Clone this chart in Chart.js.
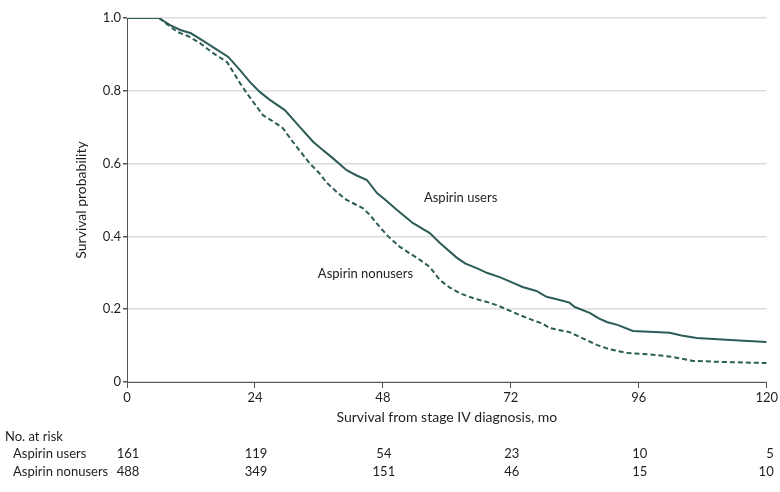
<!DOCTYPE html>
<html>
<head>
<meta charset="utf-8">
<script src="https://cdn.jsdelivr.net/npm/chart.js@4.4.1/dist/chart.umd.min.js"></script>
<style>
  html, body { margin: 0; padding: 0; background: #fff; }
  #wrap { width: 780px; height: 492px; }
</style>
</head>
<body>
<div id="wrap"><canvas id="kmChart" width="780" height="492"></canvas></div>
<script>
// survival curves (months, survival probability)
const usersMonths = [0, 6, 8, 10, 12, 14, 17, 19, 21.2, 23, 24.9, 26.8, 29.6, 32.4, 34.9, 36.5, 38.6, 41.2, 43, 45, 46.9, 48.5, 50.6, 53.6, 56.8, 58.7, 61.9, 63.5, 65.6, 67.5, 69.9, 72, 74.2, 76.8, 78.7, 81, 83, 84, 86.8, 88.5, 90, 92, 94.9, 98, 101.8, 104, 106.9, 110, 114, 120];
const usersSurv = [1, 1, 0.981, 0.967, 0.958, 0.94, 0.912, 0.893, 0.857, 0.825, 0.797, 0.775, 0.747, 0.701, 0.66, 0.64, 0.615, 0.582, 0.568, 0.555, 0.519, 0.50, 0.473, 0.437, 0.409, 0.382, 0.341, 0.325, 0.313, 0.30, 0.288, 0.275, 0.261, 0.25, 0.234, 0.226, 0.218, 0.206, 0.19, 0.175, 0.165, 0.157, 0.140, 0.138, 0.135, 0.128, 0.121, 0.118, 0.115, 0.110];

const nonusersMonths = [0, 6, 9.4, 11.5, 13.7, 16, 18.75, 20, 21.2, 22.5, 25.5, 27.5, 29.2, 31.1, 34.3, 36, 37.5, 39.5, 41.2, 44.2, 45.5, 47.4, 49, 51.2, 53, 55, 56.8, 58.7, 60.5, 62.4, 65, 67.5, 69.4, 72.4, 74, 76.1, 78, 79.3, 83, 85.5, 88.1, 90.5, 93.7, 98, 102.4, 106.1, 112, 120];
const nonusersSurv = [1, 1, 0.962, 0.95, 0.931, 0.905, 0.879, 0.85, 0.821, 0.793, 0.733, 0.715, 0.698, 0.66, 0.60, 0.575, 0.547, 0.52, 0.50, 0.478, 0.46, 0.426, 0.40, 0.371, 0.354, 0.335, 0.316, 0.28, 0.26, 0.244, 0.23, 0.22, 0.211, 0.192, 0.182, 0.17, 0.16, 0.148, 0.137, 0.12, 0.102, 0.09, 0.08, 0.076, 0.069, 0.058, 0.055, 0.052];

// number at risk table
const riskMonths = [0, 24, 48, 72, 96, 120];
const riskUsers = [161, 119, 54, 23, 10, 5];
const riskNonusers = [488, 349, 151, 46, 15, 10];

const lineColor = "#2b5c57";
const textColor = "#1e1e1e";
const fontFamily = "Lato, 'Open Sans', sans-serif";

function toPoints(xs, ys) {
  return xs.map((x, i) => ({ x: x, y: ys[i] }));
}

// curve labels + risk table drawn from the scales
const extrasPlugin = {
  id: "extras",
  afterDraw(chart) {
    const ctx = chart.ctx;
    const xs = chart.scales.x;
    const ys = chart.scales.y;
    ctx.save();
    ctx.fillStyle = textColor;
    ctx.font = "13px " + fontFamily;
    ctx.textBaseline = "middle";
    ctx.textAlign = "left";
    ctx.fillText("Aspirin users", xs.getPixelForValue(55.7), ys.getPixelForValue(0.505));
    ctx.fillText("Aspirin nonusers", xs.getPixelForValue(35.8), ys.getPixelForValue(0.297));

    // risk table
    const rowTitle = 437, rowUsers = 454, rowNon = 472;
    ctx.fillText("No. at risk", 5, rowTitle);
    ctx.fillText("Aspirin users", 13, rowUsers);
    ctx.fillText("Aspirin nonusers", 13, rowNon);
    riskMonths.forEach((m, i) => {
      const px = xs.getPixelForValue(m);
      if (i === riskMonths.length - 1) {
        ctx.textAlign = "right";
        ctx.fillText(String(riskUsers[i]), px + 7, rowUsers);
        ctx.fillText(String(riskNonusers[i]), px + 7, rowNon);
      } else {
        ctx.textAlign = "center";
        ctx.fillText(String(riskUsers[i]), px + 1, rowUsers);
        ctx.fillText(String(riskNonusers[i]), px + 1, rowNon);
      }
    });
    ctx.restore();
  },
};

const config = {
  type: "line",
  data: {
    datasets: [
      {
        label: "Aspirin users",
        data: toPoints(usersMonths, usersSurv),
        borderColor: lineColor,
        borderWidth: 2,
        pointRadius: 0,
        tension: 0,
        fill: false,
      },
      {
        label: "Aspirin nonusers",
        data: toPoints(nonusersMonths, nonusersSurv),
        borderColor: lineColor,
        borderWidth: 2,
        borderDash: [5, 3],
        pointRadius: 0,
        tension: 0,
        fill: false,
      },
    ],
  },
  options: {
    responsive: false,
    animation: false,
    devicePixelRatio: 1,
    layout: { padding: { left: 0, right: 13, top: 18, bottom: 66.6 } },
    plugins: {
      legend: { display: false },
      tooltip: { enabled: false },
    },
    scales: {
      x: {
        type: "linear",
        min: 0,
        max: 120,
        afterFit: (s) => { s.height = 43.4; },
        ticks: {
          stepSize: 24,
          color: textColor,
          padding: 2,
          font: { family: fontFamily, size: 13 },
        },
        grid: {
          drawOnChartArea: false,
          drawTicks: true,
          tickLength: 6,
          tickColor: "#555",
        },
        border: { color: "#555", width: 1 },
        title: {
          display: true,
          text: "Survival from stage IV diagnosis, mo",
          color: textColor,
          padding: { top: 0, bottom: 0 },
          font: { family: fontFamily, size: 14 },
        },
      },
      y: {
        min: 0,
        max: 1,
        afterFit: (s) => { s.width = 127; },
        ticks: {
          stepSize: 0.2,
          color: textColor,
          padding: 2,
          font: { family: fontFamily, size: 13 },
          callback: (v) => (v === 0 ? "0" : v.toFixed(1)),
        },
        grid: {
          color: "#dcdcdc",
          lineWidth: 1.5,
          tickLength: 4,
          tickColor: "#555",
        },
        border: { color: "#555", width: 1 },
        title: {
          display: true,
          text: "Survival probability",
          color: textColor,
          padding: { top: 73, bottom: 0 },
          font: { family: fontFamily, size: 14 },
        },
      },
    },
  },
  plugins: [extrasPlugin],
};

const ctx = document.getElementById("kmChart").getContext("2d");
const kmChart = new Chart(ctx, config);
</script>
</body>
</html>
